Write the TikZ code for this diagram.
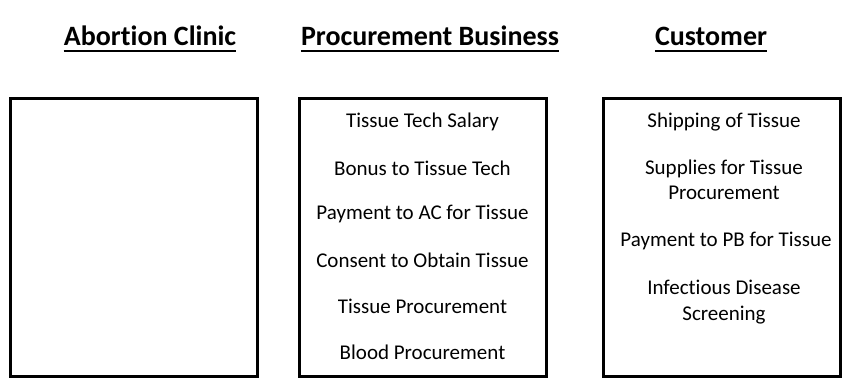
\documentclass[tikz,border=0pt]{standalone}
\usepackage{fontspec}
\setmainfont{Carlito}[Ligatures=NoCommon]
\usepackage{tikz}
\usetikzlibrary{positioning}
\tikzset{
  panel/.style={draw=black,line width=3pt,minimum width=247pt,minimum height=278pt,inner sep=0pt},
  head/.style={font=\fontsize{28}{32}\selectfont\bfseries,inner sep=0pt,anchor=base},
  ul/.style={line width=2pt},
  item/.style={font=\fontsize{21}{25.5}\selectfont,align=center,inner sep=0pt}
}
\begin{document}
\begin{tikzpicture}[x=1pt,y=-1pt]
  \useasboundingbox (0,0) rectangle (843,378);
  % headings
  \node[head] (hac) at (150,45) {Abortion Clinic};
  \node[head] (hpb) at (430,45) {Procurement Business};
  \node[head] (hcu) at (711,45) {Customer};
  \foreach \h in {hac,hpb,hcu}
    \draw[ul] ([yshift=-6pt]\h.base west) -- ([yshift=-6pt]\h.base east);
  % boxes
  \node[panel] (ac) at (133.5,237) {};
  \node[panel] (pb) at (422.5,237) {};
  \node[panel,minimum width=237pt] (cu) at (721.5,237) {};
  % procurement business items
  \foreach \t [count=\i] in {Tissue Tech Salary,Bonus to Tissue Tech,Payment to AC for Tissue,
                             Consent to Obtain Tissue,Tissue Procurement,Blood Procurement}
    \node[item] (pb\i) at (422.5,{76+46*\i}) {\t};
  % customer items
  \node[item] (cu1) at (724,122) {Shipping of Tissue};
  \node[item] (cu2) at (724,180) {Supplies for Tissue\\Procurement};
  \node[item] (cu3) at (726,241) {Payment to PB for Tissue};
  \node[item] (cu4) at (724,302) {Infectious Disease\\Screening};
\end{tikzpicture}
\end{document}
